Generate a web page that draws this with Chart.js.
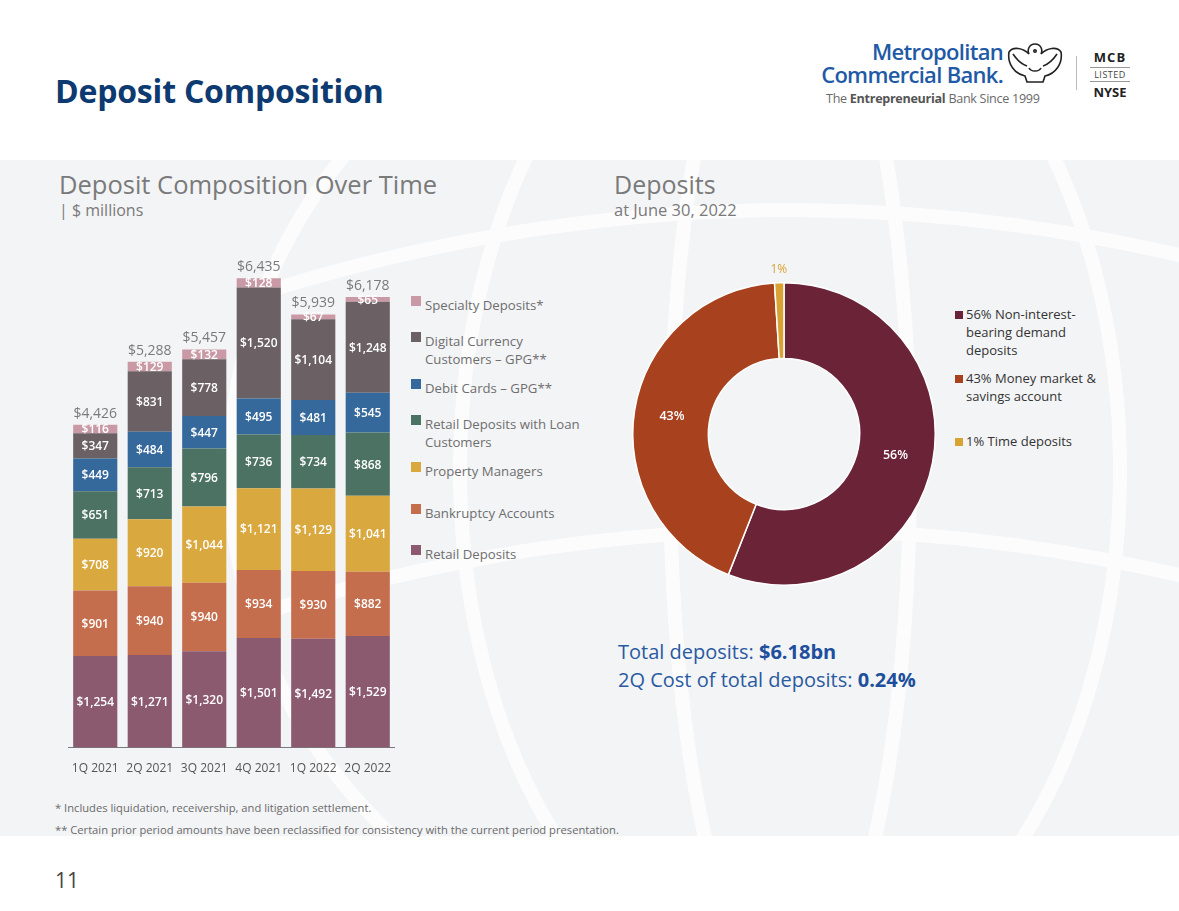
<!DOCTYPE html>
<html>
<head>
<meta charset="utf-8">
<script src="https://cdn.jsdelivr.net/npm/chart.js@4.4.0/dist/chart.umd.min.js"></script>
<style>
  html, body { margin: 0; padding: 0; }
  body { width: 1179px; height: 911px; position: relative; overflow: hidden; background: #ffffff; font-family: "Open Sans", sans-serif; }
  .abs { position: absolute; }
  #panel { left: 0; top: 160px; width: 1179px; height: 676px; background: #f3f4f6; }
  #title { left: 55px; top: 69px; font-size: 32px; font-weight: 700; color: #0d3a70; letter-spacing: -0.2px; }
  #logo1 { left: 790px; top: 40px; width: 213px; text-align: right; font-size: 22px; font-weight: 600; color: #1f5aa6; line-height: 23px; letter-spacing: -0.7px; }
  #logo2 { left: 826px; top: 90px; font-size: 12.6px; color: #6a6a6a; letter-spacing: -0.3px; }
  #logo2 b { color: #555; }
  #sep { left: 1076px; top: 56px; width: 1px; height: 34px; background: #bbb; }
  #nyse { left: 1090px; top: 48px; width: 40px; text-align: center; color: #222; }
  #lhTitle { left: 59px; top: 167px; font-size: 25.5px; color: #7a7a7a; }
  #lhSub { left: 59px; top: 199px; font-size: 16px; color: #7a7a7a; }
  #rhTitle { left: 614px; top: 167px; font-size: 25px; color: #7a7a7a; }
  #rhSub { left: 614px; top: 198px; font-size: 16.5px; color: #7a7a7a; }
  #barWrap { left: 68px; top: 230px; width: 327px; height: 548px; }
  #donutWrap { left: 614px; top: 264px; width: 340px; height: 340px; }
  .lg { position: absolute; font-size: 13.2px; line-height: 18px; color: #6e6e6e; }
  .lg i { position: absolute; left: -14px; top: 0; width: 10px; height: 10px; }
  .dl { position: absolute; font-size: 13px; line-height: 18px; color: #333; }
  .dl i { position: absolute; left: -11px; top: 6px; width: 8px; height: 8px; }
  #totals { left: 618px; top: 638px; font-size: 20px; line-height: 28px; color: #2a5aa0; }
  #totals b { color: #1d4f9c; }
  .fn { font-size: 11.2px; color: #6a6a6a; }
  #page { left: 55px; top: 866px; font-size: 21px; color: #444; }
</style>
</head>
<body>
<div id="panel" class="abs"></div>
<svg class="abs" style="left:0;top:0" width="1179" height="911">
  <g fill="none" stroke="#ffffff" stroke-width="14" opacity="0.8">
    <ellipse cx="790" cy="470" rx="560" ry="520"/>
    <ellipse cx="790" cy="470" rx="330" ry="520"/>
    <ellipse cx="790" cy="470" rx="120" ry="520"/>
    <path d="M240 300 Q790 120 1340 300"/>
    <path d="M240 620 Q790 440 1340 620"/>
  </g>
</svg>

<div id="title" class="abs">Deposit Composition</div>
<div id="logo1" class="abs">Metropolitan<br>Commercial Bank.</div>
<svg class="abs" style="left:1005px;top:38px" width="60" height="46" viewBox="0 0 60 46">
  <g fill="none" stroke="#222" stroke-width="1.6">
    <path d="M30 6 C24 6 22 12 24 16 C18 10 8 8 4 14 C2 26 10 36 20 38 L22 44 L38 44 L40 38 C50 36 58 26 56 14 C52 8 42 10 36 16 C38 12 36 6 30 6 Z"/>
    <path d="M8 16 C12 22 16 26 22 28 M52 16 C48 22 44 26 38 28"/>
    <circle cx="30" cy="13" r="1.2"/>
    <path d="M24 30 C26 34 34 34 36 30"/>
  </g>
</svg>
<div id="logo2" class="abs">The <b>Entrepreneurial</b> Bank Since 1999</div>
<div id="sep" class="abs"></div>
<div id="nyse" class="abs">
  <div style="font-size:13px;font-weight:700;letter-spacing:1px;">MCB</div>
  <div style="font-size:9px;border-top:1px solid #999;border-bottom:1px solid #999;line-height:13px;margin:1px 0;letter-spacing:0.5px;color:#444;">LISTED</div>
  <div style="font-size:13px;font-weight:700;">NYSE</div>
</div>

<div id="lhTitle" class="abs">Deposit Composition Over Time</div>
<div id="lhSub" class="abs">| $ millions</div>
<div id="rhTitle" class="abs">Deposits</div>
<div id="rhSub" class="abs">at June 30, 2022</div>

<div id="barWrap" class="abs"><canvas id="barras"></canvas></div>
<div id="barLegend" class="abs" style="left:425px;top:0;"></div>

<div id="donutWrap" class="abs"><canvas id="dona"></canvas></div>
<div id="donaLegend" class="abs" style="left:966px;top:0;"></div>

<div id="totals" class="abs">Total deposits: <b>$6.18bn</b><br>2Q Cost of total deposits: <b>0.24%</b></div>

<div class="abs fn" style="left:55px;top:800px;">* Includes liquidation, receivership, and litigation settlement.</div>
<div class="abs fn" style="left:55px;top:822px;">** Certain prior period amounts have been reclassified for consistency with the current period presentation.</div>
<div id="page" class="abs">11</div>

<script>
// Datos del grafico de barras (millones de $)
const trimestres = ["1Q 2021", "2Q 2021", "3Q 2021", "4Q 2021", "1Q 2022", "2Q 2022"];
const retailDeposits = [1254, 1271, 1320, 1501, 1492, 1529];
const bankruptcy = [901, 940, 940, 934, 930, 882];
const propertyManagers = [708, 920, 1044, 1121, 1129, 1041];
const retailLoan = [651, 713, 796, 736, 734, 868];
const debitCards = [449, 484, 447, 495, 481, 545];
const digitalCurrency = [347, 831, 778, 1520, 1104, 1248];
const specialty = [116, 129, 132, 128, 67, 65];
const totales = [4426, 5288, 5457, 6435, 5939, 6178];

// Datos de la dona
const tiposDeposito = ["56% Non-interest-bearing demand deposits", "43% Money market & savings account", "1% Time deposits"];
const porcentajes = [56, 43, 1];

const series = [
    { label: "Retail Deposits", data: retailDeposits, color: "#8b5a6e" },
    { label: "Bankruptcy Accounts", data: bankruptcy, color: "#c46e4e" },
    { label: "Property Managers", data: propertyManagers, color: "#d9a83e" },
    { label: "Retail Deposits with Loan Customers", data: retailLoan, color: "#4b7262" },
    { label: "Debit Cards \u2013 GPG**", data: debitCards, color: "#35689b" },
    { label: "Digital Currency Customers \u2013 GPG**", data: digitalCurrency, color: "#6b6063" },
    { label: "Specialty Deposits*", data: specialty, color: "#c99aa5" }
];

function dinero(v) {
    return "$" + v.toLocaleString("en-US");
}

// etiquetas dentro de cada segmento y total arriba
const etiquetasBarras = {
    id: "etiquetasBarras",
    afterDatasetsDraw(chart) {
        const ctx = chart.ctx;
        ctx.save();
        ctx.textAlign = "center";
        ctx.textBaseline = "middle";
        chart.data.datasets.forEach((ds, i) => {
            const meta = chart.getDatasetMeta(i);
            meta.data.forEach((bar, j) => {
                const y = (bar.y + bar.base) / 2;
                ctx.fillStyle = "#ffffff";
                ctx.font = "600 12px 'Open Sans'";
                ctx.fillText(dinero(ds.data[j]), bar.x, y + 1);
            });
        });
        const ultimo = chart.getDatasetMeta(chart.data.datasets.length - 1);
        ultimo.data.forEach((bar, j) => {
            ctx.fillStyle = "#7a7a7a";
            ctx.font = "14px 'Open Sans'";
            ctx.fillText(dinero(totales[j]), bar.x, bar.y - 11);
        });
        ctx.restore();
    }
};

const contexto = document.getElementById("barras").getContext("2d");
const grafico = new Chart(contexto, {
    type: "bar",
    data: {
        labels: trimestres,
        datasets: series.map(s => ({
            label: s.label,
            data: s.data,
            backgroundColor: s.color,
            borderWidth: 0,
            barPercentage: 0.81,
            categoryPercentage: 1
        }))
    },
    options: {
        responsive: true,
        maintainAspectRatio: false,
        animation: false,
        layout: { padding: 0 },
        scales: {
            x: {
                stacked: true,
                grid: { display: true, drawOnChartArea: false, drawTicks: true, tickLength: 12, color: "rgba(0,0,0,0)" },
                border: { display: true, color: "#7a7a7a", width: 1 },
                ticks: { color: "#555", font: { family: "Open Sans", size: 12 }, padding: 2, maxRotation: 0 }
            },
            y: { stacked: true, display: false, min: 0, max: 7095 }
        },
        plugins: { legend: { display: false }, tooltip: { enabled: false } }
    },
    plugins: [etiquetasBarras]
});

// leyenda de barras (orden inverso)
const topsLeyenda = [296, 332, 379, 415, 462, 504, 545];
const leyenda = document.getElementById("barLegend");
series.slice().reverse().forEach((s, k) => {
    const d = document.createElement("div");
    d.className = "lg";
    d.style.top = topsLeyenda[k] + "px";
    d.style.width = "165px";
    d.innerHTML = '<i style="background:' + s.color + '"></i>' + s.label;
    leyenda.appendChild(d);
});

// Dona
const coloresDona = ["#6b2337", "#a8421e", "#d9a334"];
const etiquetasDona = {
    id: "etiquetasDona",
    afterDatasetsDraw(chart) {
        const ctx = chart.ctx;
        const meta = chart.getDatasetMeta(0);
        ctx.save();
        ctx.textAlign = "center";
        ctx.textBaseline = "middle";
        meta.data.forEach((arc, i) => {
            const txt = porcentajes[i] + "%";
            if (porcentajes[i] < 5) {
                const ang = (arc.startAngle + arc.endAngle) / 2;
                const r = arc.outerRadius + 13;
                ctx.fillStyle = "#d9a334";
                ctx.font = "12px 'Open Sans'";
                ctx.fillText(txt, arc.x + Math.cos(ang) * r, arc.y + Math.sin(ang) * r);
            } else {
                const p = arc.tooltipPosition();
                ctx.fillStyle = "#ffffff";
                ctx.font = "600 12.5px 'Open Sans'";
                ctx.fillText(txt, p.x, p.y);
            }
        });
        ctx.restore();
    }
};

new Chart(document.getElementById("dona").getContext("2d"), {
    type: "doughnut",
    data: {
        labels: tiposDeposito,
        datasets: [{
            data: porcentajes,
            backgroundColor: coloresDona,
            borderColor: "#ffffff",
            borderWidth: 1.5
        }]
    },
    options: {
        responsive: true,
        maintainAspectRatio: false,
        animation: false,
        cutout: "50%",
        layout: { padding: 18 },
        plugins: { legend: { display: false }, tooltip: { enabled: false } }
    },
    plugins: [etiquetasDona]
});

// leyenda de la dona
const lineasDona = [["56% Non-interest-", "bearing demand", "deposits"], ["43% Money market &", "savings account"], ["1% Time deposits"]];
const topsDona = [305, 369, 432];
const leyendaDona = document.getElementById("donaLegend");
tiposDeposito.forEach((t, i) => {
    const d = document.createElement("div");
    d.className = "dl";
    d.style.top = topsDona[i] + "px";
    d.style.width = "150px";
    d.innerHTML = '<i style="background:' + coloresDona[i] + '"></i>' + lineasDona[i].join("<br>");
    leyendaDona.appendChild(d);
});
</script>
</body>
</html>
